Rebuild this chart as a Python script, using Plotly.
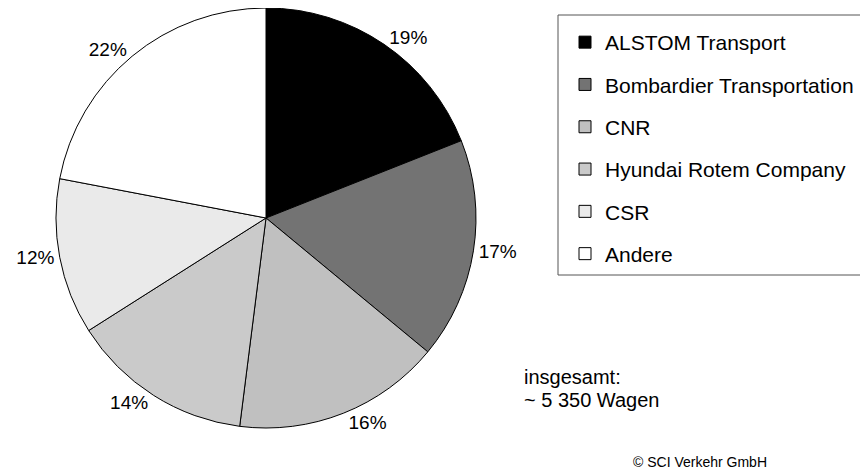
import plotly.graph_objects as go

labels = ["ALSTOM Transport", "Bombardier Transportation", "CNR",
          "Hyundai Rotem Company", "CSR", "Andere"]
values = [19, 17, 16, 14, 12, 22]
colors = ["#000000", "#737373", "#c0c0c0", "#cacaca", "#eaeaea", "#ffffff"]
total_lines = ["insgesamt:", "~ 5 350 Wagen"]
source = "© SCI Verkehr GmbH"

W, H = 868, 473
OX, OY = 8, 8  # page body margin offset
FONT = "Liberation Sans, Arial, sans-serif"


def px(x):
    return (x - OX) / W


def py(y):
    return 1 - (y - OY) / H


fig = go.Figure()
fig.add_trace(go.Pie(
    labels=labels, values=values, sort=False, direction="clockwise",
    rotation=0, marker=dict(colors=colors, line=dict(color="#000000", width=1)),
    textinfo="percent", texttemplate="%{percent:.0%}", textposition="outside",
    textfont=dict(family=FONT, size=19, color="#000000"),
    showlegend=False, hoverinfo="label+percent",
    domain=dict(x=[px(56), px(476)], y=[py(428), py(8)]),
))

for lab, col in zip(labels, colors):
    fig.add_trace(go.Scatter(
        x=[None], y=[None], mode="markers", name=lab, legendgroup=lab,
        marker=dict(symbol="square", size=12, color=col,
                    line=dict(color="#000000", width=1)),
        showlegend=True,
    ))

fig.add_shape(type="rect", xref="paper", yref="paper",
              x0=px(558), x1=px(900), y0=py(275), y1=py(15),
              line=dict(color="#555555", width=1), fillcolor="rgba(0,0,0,0)")

for i, t in enumerate(total_lines):
    fig.add_annotation(x=px(522), y=py(377 + 23 * i), xref="paper", yref="paper",
                       xanchor="left", yanchor="middle", align="left",
                       showarrow=False, text=t,
                       font=dict(family=FONT, size=20, color="#000000"))
fig.add_annotation(x=px(700), y=py(462), xref="paper", yref="paper",
                   xanchor="center", yanchor="middle", showarrow=False,
                   text=source,
                   font=dict(family=FONT, size=14, color="#000000"))

fig.update_layout(
    width=W, height=H, margin=dict(l=0, r=0, t=0, b=0, pad=0, autoexpand=False),
    paper_bgcolor="#ffffff", plot_bgcolor="#ffffff",
    xaxis=dict(visible=False), yaxis=dict(visible=False),
    legend=dict(x=px(565), y=py(22), xanchor="left", yanchor="top",
                font=dict(family=FONT, size=21, color="#000000"),
                tracegroupgap=12, itemwidth=30, bgcolor="rgba(0,0,0,0)"),
)

fig.write_html("out.html")
